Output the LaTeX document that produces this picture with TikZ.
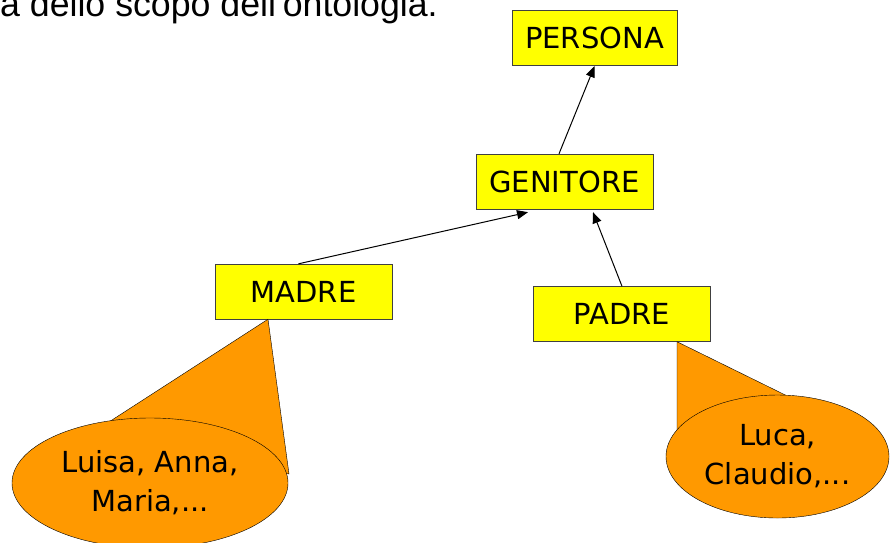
\documentclass[tikz,border=0pt]{standalone}
\usepackage{fontspec}
\setmainfont{DejaVu Sans}
\newfontfamily\introfont{Liberation Sans}
\usetikzlibrary{arrows.meta}
\usetikzlibrary{shapes.geometric}
\definecolor{boxyellow}{RGB}{255,255,0}
\definecolor{setorange}{RGB}{255,153,0}
\tikzset{arr/.style = {-{Triangle[length=11pt, width=9pt]}, line width=1pt}}
\tikzset{concept/.style = {draw=black!75, fill=boxyellow, inner sep = 0,
                           minimum width=177, minimum height=55,
                           font=\fontsize{29}{35}\selectfont}}
\tikzset{inst/.style = {draw, ellipse, fill=setorange, inner sep = 0, align=center,
                        font=\fontsize{29}{39}\selectfont}}

\begin{document}
\begin{tikzpicture}[x=1pt, y=-1pt]
      \useasboundingbox (0,0) rectangle (890,542);
      \node [anchor=base west, inner sep=0, font=\introfont\fontsize{35.7}{40}\selectfont] (intro) at (0,16) {a dello scopo dell'ontologia.};
      \node [concept, minimum width=165] (persona) at (594.5,37.5) {PERSONA};
      \node [concept] (genitore) at (564.5,181.5) {GENITORE};
      \node [concept] (madre) at (303.5,291.5) {MADRE};
      \node [concept] (padre) at (622,314) {PADRE};
      \filldraw [fill=setorange] ([xshift=-35.5pt]madre.south) -- (81,440) -- (289,474) -- cycle;
      \filldraw [fill=setorange] ([xshift=55pt]padre.south) -- (677,450) -- (830,417) -- cycle;
      \node [inst, minimum width=276, minimum height=130] (luisa) at (150,483) {Luisa, Anna,\\ Maria,...};
      \node [inst, minimum width=223, minimum height=123] (luca) at (777.5,456.5) {Luca,\\ Claudio,...};
      \draw [arr] ([xshift=-5.5pt]genitore.north) -- ([yshift=-1pt]persona.south);
      \draw [arr] ([xshift=-5pt]madre.north) -- ([xshift=-36.5pt, yshift=-3pt]genitore.south);
      \draw [arr] (padre.north) -- ([xshift=28.5pt, yshift=-3pt]genitore.south);
    \end{tikzpicture}
\end{document}
